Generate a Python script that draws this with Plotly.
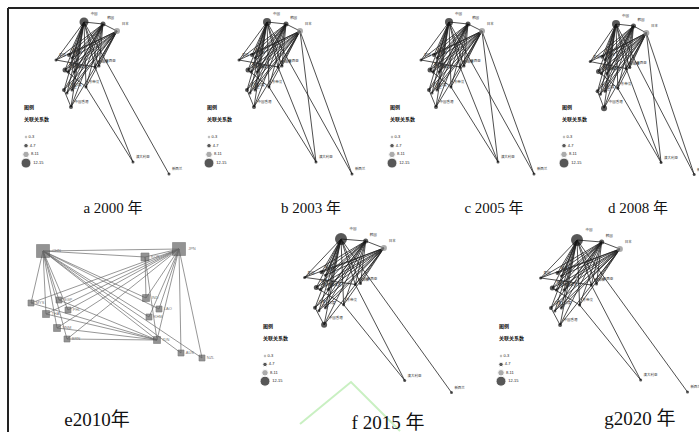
import plotly.graph_objects as go

# ---------------- data ----------------
NODE_NAMES = ["中国", "韩国", "日本", "泰国", "越南", "老挝", "缅甸", "柬埔寨", "菲律宾",
              "新加坡", "马来西亚", "文莱", "印尼", "印度", "东帝汶", "中国香港", "澳大利亚", "新西兰"]
# base network layout (relative to the top node)
BASE_X = [0, 19, 33, -28, -15, -12, -19, -16, -10, 11, 15, -20, -17, -12, 2, -13, 49, 85]
BASE_Y = [0, 2, 9, 38, 33, 36, 48, 50, 50, 45, 44, 68, 71, 68, 65, 85, 140, 152]
BASE_SIZE = [9, 5, 6, 3, 4, 3, 5, 3, 3, 3, 3, 4, 3, 3, 3, 4, 3, 3]
BASE_COLOR = ["#111", "#111", "#888"] + ["#111"] * 15
EDGE_SRC = [0] * 13 + [1] * 13 + [2] * 13 + [0, 1, 14, 9, 0, 3, 6, 11]
EDGE_DST = list(range(3, 16)) * 3 + [1, 2, 16, 16, 17, 9, 14, 15]
EXTRA_SRC = [2, 2]           # extra links in 2003-2008
EXTRA_DST = [16, 17]

PANELS = ["a", "b", "c", "d", "f", "g"]
PANEL_OX = [84, 267, 449, 616, 341, 577]
PANEL_OY = [22, 22, 22, 24, 239, 240]
PANEL_SX = [1.0, 1.0, 1.0, 0.92, 1.3, 1.3]
PANEL_SY = [1.0, 1.0, 1.0, 0.99, 1.01, 1.0]
PANEL_TOP_SIZE = [9, 8, 8, 8, 12, 12]
PANEL_EXTRA = [False, True, True, True, False, False]
LEGEND_X = [24, 207, 390, 562, 263, 499]
LEGEND_Y = [108, 108, 108, 108, 327, 327]
LEGEND_STEP = [8.7, 8.7, 8.7, 8.7, 8.4, 8.4]
LEGEND_LABELS = ["0-3", "4-7", "8-11", "12-15"]
LEGEND_SIZES = [2.5, 4.5, 6.5, 10]
LEGEND_COLORS = ["#111", "#111", "#888", "#111"]

# panel e (2010) network
E_NAMES = ["CHN", "JPN", "KOR", "MYS", "SGP", "THA", "PHL", "VNM", "BRN",
           "IND", "LAO", "KHM", "IDN", "AUS", "NZL"]
E_X = [43, 179, 145, 31, 59, 46, 68, 57, 67, 146, 159, 149, 157, 181, 202]
E_Y = [251, 249, 257, 303, 300, 314, 310, 328, 339, 298, 309, 317, 340, 353, 358]
E_SIZE = [13, 13, 8, 6, 6, 7, 6, 7, 6, 7, 6, 6, 7, 6, 6]
E_SRC = [0] * 13 + [1] * 14 + [2, 2, 3, 5, 8, 4, 7]
E_DST = list(range(2, 15)) + [0] + list(range(2, 15)) + [9, 12, 12, 12, 12, 12, 12]

CAPTIONS = ["a 2000 年", "b 2003 年", "c 2005 年", "d 2008 年", "e2010年", "f 2015 年", "g2020 年"]
CAP_X = [113, 311, 494, 638, 97, 388, 640]
CAP_Y = [209, 209, 209, 209, 421, 424, 420]
CAP_SIZE = [15, 15, 15, 15, 19, 19, 19]

WATER_X = [300, 351, 400]
WATER_Y = [424, 382, 431]

# ---------------- figure ----------------
fig = go.Figure()

for p in range(len(PANELS)):
    ox, oy, sx, sy = PANEL_OX[p], PANEL_OY[p], PANEL_SX[p], PANEL_SY[p]
    nx = [ox + sx * v for v in BASE_X]
    ny = [oy + sy * v for v in BASE_Y]
    src = EDGE_SRC + (EXTRA_SRC if PANEL_EXTRA[p] else [])
    dst = EDGE_DST + (EXTRA_DST if PANEL_EXTRA[p] else [])
    ex, ey = [], []
    for s, t in zip(src, dst):
        ex += [nx[s], nx[t], None]
        ey += [ny[s], ny[t], None]
    fig.add_trace(go.Scatter(x=ex, y=ey, mode="lines",
                             line=dict(color="#222", width=0.8), hoverinfo="skip"))
    sizes = list(BASE_SIZE)
    sizes[0] = PANEL_TOP_SIZE[p]
    if p in (3, 4):
        sizes[15] = 6
    fig.add_trace(go.Scatter(x=nx, y=ny, mode="markers+text", text=NODE_NAMES,
                             textposition="top right",
                             textfont=dict(size=3.5, color="#333", family="Noto Sans CJK SC"),
                             marker=dict(size=sizes, color=BASE_COLOR, line=dict(width=0))))
    # legend block
    lx, ly, st = LEGEND_X[p], LEGEND_Y[p], LEGEND_STEP[p]
    fig.add_trace(go.Scatter(x=[lx, lx], y=[ly, ly + 12], mode="text",
                             text=["<b>图例</b>", "<b>关联关系数</b>"], textposition="middle right",
                             textfont=dict(size=5, color="#111", family="Noto Sans CJK SC")))
    iy = [ly + 29 + i * st for i in range(4)]
    fig.add_trace(go.Scatter(x=[lx + 2] * 4, y=iy, mode="markers+text", text=LEGEND_LABELS,
                             textposition="middle right",
                             textfont=dict(size=4, color="#222", family="Liberation Sans"),
                             marker=dict(size=LEGEND_SIZES, color=LEGEND_COLORS)))

# panel e
ex, ey = [], []
for s, t in zip(E_SRC, E_DST):
    ex += [E_X[s], E_X[t], None]
    ey += [E_Y[s], E_Y[t], None]
fig.add_trace(go.Scatter(x=ex, y=ey, mode="lines", line=dict(color="#6a6a6a", width=0.7),
                         hoverinfo="skip"))
fig.add_trace(go.Scatter(x=E_X, y=E_Y, mode="markers+text", text=E_NAMES,
                         textposition="middle right",
                         textfont=dict(size=4, color="#777", family="Liberation Sans"),
                         marker=dict(symbol="square", size=E_SIZE, color="#666",
                                     line=dict(color="#444", width=0.6))))

# watermark
fig.add_trace(go.Scatter(x=WATER_X, y=WATER_Y, mode="lines",
                         line=dict(color="#c9f0c2", width=2), hoverinfo="skip"))

# captions
fig.add_trace(go.Scatter(x=CAP_X, y=CAP_Y, mode="text", text=CAPTIONS,
                         textposition="middle center",
                         textfont=dict(size=CAP_SIZE, color="#111",
                                       family="Liberation Serif, Noto Sans CJK SC")))

# outer frame
fig.add_shape(type="line", x0=8, x1=699, y0=8, y1=8, line=dict(color="#222", width=2))
fig.add_shape(type="line", x0=8, x1=8, y0=8, y1=432, line=dict(color="#222", width=2))

fig.update_layout(width=699, height=432, margin=dict(l=0, r=0, t=0, b=0),
                  paper_bgcolor="white", plot_bgcolor="white", showlegend=False)
fig.update_xaxes(range=[0, 699], visible=False, fixedrange=True)
fig.update_yaxes(range=[432, 0], visible=False, fixedrange=True)
fig.write_html("out.html", config={"displayModeBar": False},
               post_script="document.body.style.margin='0';document.body.style.overflow='hidden';")
